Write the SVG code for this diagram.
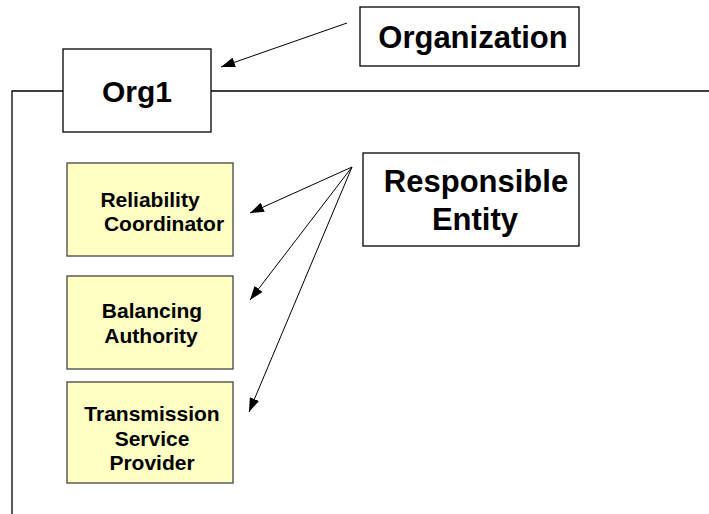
<svg xmlns="http://www.w3.org/2000/svg" width="709" height="514" viewBox="0 0 709 514">
<defs>
<style>
.frame{fill:none;stroke:#000;stroke-width:1.3}
.wbox{fill:#fff;stroke:#000;stroke-width:1.3}
.ybox{fill:#ffffc4;stroke:#444;stroke-width:1.3}
.big{font-family:"Liberation Sans",Arial,sans-serif;font-weight:bold;font-size:31px;fill:#000;text-anchor:middle}
.small{font-family:"Liberation Sans",Arial,sans-serif;font-weight:bold;font-size:21px;fill:#000;text-anchor:middle}
.conn{fill:none;stroke:#000;stroke-width:1;marker-end:url(#ah)}
</style>
<marker id="ah" viewBox="0 0 14 10" refX="14" refY="5" markerWidth="14" markerHeight="10" markerUnits="userSpaceOnUse" orient="auto">
<path d="M0,0 L14,5 L0,10 Z" fill="#000"/>
</marker>
</defs>
<g id="frame">
<path class="frame" d="M12,514 L12,91 L63,91 M211,91 L709,91"/>
</g>
<g id="org1">
<rect class="wbox" x="63" y="49" width="148" height="83"/>
<text class="big" x="137" y="102" style="font-size:30px">Org1</text>
</g>
<g id="organization">
<rect class="wbox" x="360" y="7" width="219" height="59"/>
<text class="big" x="473" y="48">Organization</text>
</g>
<g id="responsible-entity">
<rect class="wbox" x="363" y="153" width="216" height="93"/>
<text class="big" x="476" y="192">Responsible</text>
<text class="big" x="475" y="230">Entity</text>
</g>
<g id="reliability-coordinator">
<rect class="ybox" x="67" y="163" width="166" height="93"/>
<text class="small" x="150" y="207">Reliability</text>
<text class="small" x="164" y="231">Coordinator</text>
</g>
<g id="balancing-authority">
<rect class="ybox" x="67" y="276" width="166" height="93"/>
<text class="small" x="152" y="318">Balancing</text>
<text class="small" x="151" y="343">Authority</text>
</g>
<g id="transmission-service-provider">
<rect class="ybox" x="67" y="382" width="166" height="101"/>
<text class="small" x="152" y="421">Transmission</text>
<text class="small" x="152" y="446">Service</text>
<text class="small" x="152" y="470">Provider</text>
</g>
<g id="connectors">
<line class="conn" x1="347" y1="23" x2="221" y2="67"/>
<line class="conn" x1="352" y1="167" x2="250" y2="213"/>
<line class="conn" x1="352" y1="167" x2="250" y2="300"/>
<line class="conn" x1="352" y1="167" x2="249" y2="412"/>
</g>
</svg>
